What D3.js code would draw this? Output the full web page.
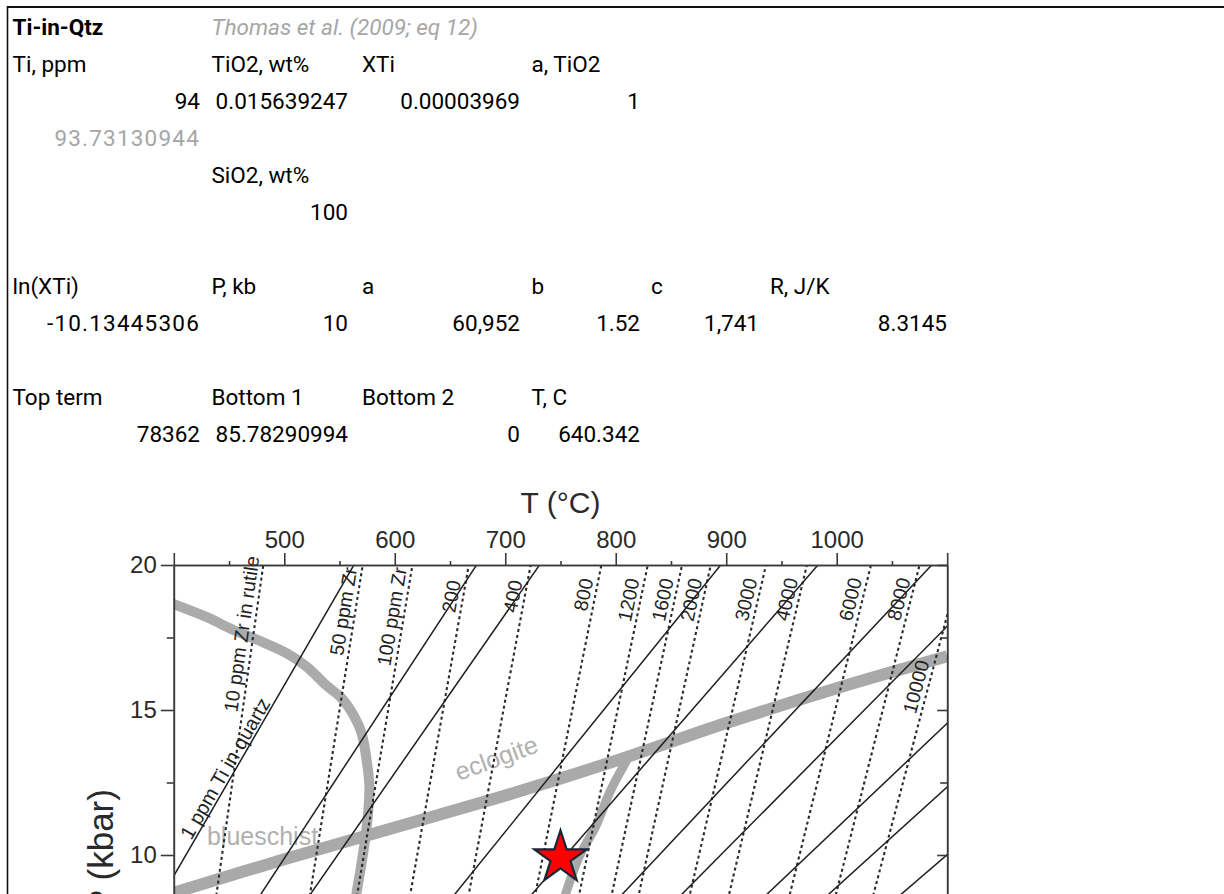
<!DOCTYPE html>
<html>
<head>
<meta charset="utf-8">
<script src="https://cdn.jsdelivr.net/npm/d3@7/dist/d3.min.js"></script>
<style>
  html, body { margin: 0; padding: 0; background: #fff; }
  svg { display: block; }
</style>
</head>
<body>
<svg id="page" width="1224" height="894"></svg>
<script>
// ---------------- spreadsheet data ----------------
// [row, column, text, alignment, kind]
const sheetCells = [
  [1, 'A', 'Ti-in-Qtz', 'l', 'bold'],
  [1, 'B', 'Thomas et al. (2009; eq 12)', 'l', 'note'],
  [2, 'A', 'Ti, ppm', 'l'], [2, 'B', 'TiO2, wt%', 'l'], [2, 'C', 'XTi', 'l'], [2, 'D', 'a, TiO2', 'l'],
  [3, 'A', '94', 'r'], [3, 'B', '0.015639247', 'r'], [3, 'C', '0.00003969', 'r'], [3, 'D', '1', 'r'],
  [4, 'A', '93.73130944', 'r', 'muted'],
  [5, 'B', 'SiO2, wt%', 'l'],
  [6, 'B', '100', 'r'],
  [8, 'A', 'ln(XTi)', 'l'], [8, 'B', 'P, kb', 'l'], [8, 'C', 'a', 'l'], [8, 'D', 'b', 'l'], [8, 'E', 'c', 'l'], [8, 'F', 'R, J/K', 'l'],
  [9, 'A', '-10.13445306', 'r', 'wide'], [9, 'B', '10', 'r'], [9, 'C', '60,952', 'r'], [9, 'D', '1.52', 'r'], [9, 'E', '1,741', 'r'], [9, 'F', '8.3145', 'r'],
  [11, 'A', 'Top term', 'l'], [11, 'B', 'Bottom 1', 'l'], [11, 'C', 'Bottom 2', 'l'], [11, 'D', 'T, C', 'l'],
  [12, 'A', '78362', 'r'], [12, 'B', '85.78290994', 'r'], [12, 'C', '0', 'r'], [12, 'D', '640.342', 'r']
];

// ---------------- chart data ----------------
const tempTicks = [500, 600, 700, 800, 900, 1000];
const pressTicks = [10, 15, 20];

// Ti-in-quartz isopleths (solid): ppm, T (°C) at 20 kbar and at 5 kbar
const tiPpm = [1, 5, 10, 50, 100, 200, 300, 500, 700, 1000];
const tiT20 = [563, 674, 731, 895, 983, 1086, 1155, 1251, 1322, 1405];
const tiT5  = [335, 416, 457, 577, 641, 716, 765, 836, 887, 947];

// Zr-in-rutile isopleths (dashed): ppm, T (°C) at 20 kbar and at 5 kbar
const zrPpm = [10, 50, 100, 200, 400, 800, 1200, 1600, 2000, 3000, 4000, 6000, 8000, 10000];
const zrT20 = [481, 571, 616, 667, 723, 787, 829, 860, 886, 936, 973, 1031, 1075, 1112];
const zrT5  = [425, 508, 550, 597, 649, 708, 747, 776, 800, 845, 880, 934, 975, 1008];
const zrLabels = ['10 ppm Zr in rutile', '50 ppm Zr', '100 ppm Zr', '200', '400', '800', '1200',
                  '1600', '2000', '3000', '4000', '6000', '8000', '10000'];
const zrLabelP = [20.25, 19.85, 19.85, 19.4, 19.4, 19.45, 19.45, 19.45, 19.45, 19.45, 19.45, 19.45, 19.45, 16.6];

// facies boundaries (thick grey bands): T (°C), P (kbar)
const blueschistT = [400, 430, 454, 480, 502, 520, 538, 552, 563, 570, 574, 577, 576, 573, 569, 565, 561];
const blueschistP = [18.65, 18.2, 17.76, 17.35, 16.96, 16.5, 15.85, 15.4, 14.8, 14.2, 13.4, 12.4, 11.5, 10.5, 9.5, 8.6, 7.5];
const eclogiteT = [400, 500, 600, 700, 800, 900, 1000, 1100];
const eclogiteP = [8.7, 9.85, 10.95, 12.05, 13.25, 14.55, 15.75, 16.85];
const branchT = [812, 795, 782, 767, 755, 745];
const branchP = [13.4, 12.2, 11.0, 9.95, 8.7, 7.5];

const faciesLabels = ['blueschist', 'eclogite'];
const faciesLabelT = [430, 658];
const faciesLabelP = [10.34, 12.55];

const starT = 750, starP = 9.9;

// ---------------- drawing ----------------
const W = 1224, H = 894;
const svg = d3.select('#page');

// sheet frame
svg.append('line').attr('x1', 7).attr('x2', W).attr('y1', 7).attr('y2', 7)
  .attr('stroke', '#111').attr('stroke-width', 2);
svg.append('line').attr('x1', 7.5).attr('x2', 7.5).attr('y1', 6).attr('y2', H)
  .attr('stroke', '#111').attr('stroke-width', 1.6);

// sheet text
const colLeft  = { A: 12.5, B: 211.5, C: 362, D: 531.5, E: 651, F: 770 };
const colRight = { A: 200, B: 348, C: 520, D: 640, E: 759, F: 947 };
const rowBase = r => 35 + 37 * (r - 1);

const sheet = svg.append('g').attr('font-family', 'Roboto, "Open Sans", sans-serif').attr('font-size', 22.5);
sheet.selectAll('text').data(sheetCells).join('text')
  .attr('x', d => d[3] === 'r' ? colRight[d[1]] : colLeft[d[1]])
  .attr('y', d => rowBase(d[0]))
  .attr('text-anchor', d => d[3] === 'r' ? 'end' : 'start')
  .attr('font-weight', d => d[4] === 'bold' ? 700 : 400)
  .attr('font-style', d => d[4] === 'note' ? 'italic' : 'normal')
  .attr('letter-spacing', d => (d[4] === 'muted' || d[4] === 'wide') ? 1.2 : 0)
  .attr('fill', d => (d[4] === 'note' || d[4] === 'muted') ? '#a6a6a6' : '#000')
  .text(d => d[2]);

// chart scales
const x = d3.scaleLinear().domain([400, 1100]).range([173.8, 947.2]);
const y = d3.scaleLinear().domain([0, 20]).range([1145, 565]);

const chart = svg.append('g').attr('font-family', '"Liberation Sans", Arial, sans-serif');
const defs = svg.append('defs');
defs.append('clipPath').attr('id', 'plotClip').append('rect')
  .attr('x', x(400)).attr('y', y(20)).attr('width', x(1100) - x(400)).attr('height', y(0) - y(20));

const plot = chart.append('g').attr('clip-path', 'url(#plotClip)');
const lineGen = d3.line().x(d => x(d[0])).y(d => y(d[1])).curve(d3.curveCatmullRom.alpha(0.5));

// grey facies bands
plot.append('path').datum(d3.zip(blueschistT, blueschistP))
  .attr('d', lineGen).attr('fill', 'none').attr('stroke', '#ababab').attr('stroke-width', 10)
  .attr('stroke-linecap', 'round');
plot.append('path').datum(d3.zip(branchT, branchP))
  .attr('d', lineGen).attr('fill', 'none').attr('stroke', '#a9a9a9').attr('stroke-width', 9);
plot.append('path').datum(d3.zip(eclogiteT, eclogiteP))
  .attr('d', lineGen).attr('fill', 'none').attr('stroke', '#a9a9a9').attr('stroke-width', 12);

// facies labels
plot.selectAll('text.facies').data(faciesLabels).join('text').attr('class', 'facies')
  .attr('transform', (d, i) => `translate(${x(faciesLabelT[i])},${y(faciesLabelP[i])}) rotate(${i === 1 ? -20 : 0})`)
  .attr('font-size', 25).attr('fill', '#b0b0b0').text(d => d);

// helpers for straight isopleths
function angleOf(t20, t5) {
  const dx = x(t20) - x(t5), dy = y(20) - y(5);
  return Math.atan2(dy, dx) * 180 / Math.PI;
}
function pointAt(t20, t5, p) { return t5 + (p - 5) / 15 * (t20 - t5); }
const straight = d3.line().x(d => x(d[0])).y(d => y(d[1]));
const extended = (t20, t5) => [[pointAt(t20, t5, 0), 0], [pointAt(t20, t5, 21), 21]];

// dashed Zr-in-rutile lines
plot.selectAll('path.zr').data(zrPpm).join('path').attr('class', 'zr')
  .attr('d', (d, i) => straight(extended(zrT20[i], zrT5[i])))
  .attr('fill', 'none').attr('stroke', '#2a2a2a').attr('stroke-width', 2.1)
  .attr('stroke-dasharray', '3,3');

// Zr labels
chart.selectAll('text.zrlab').data(zrLabels).join('text').attr('class', 'zrlab')
  .attr('transform', (d, i) => {
    const a = angleOf(zrT20[i], zrT5[i]);
    const t = pointAt(zrT20[i], zrT5[i], zrLabelP[i]);
    const r = a * Math.PI / 180;
    const off = 5;
    const px = x(t) + Math.sin(r) * off, py = y(zrLabelP[i]) - Math.cos(r) * off;
    return `translate(${px},${py}) rotate(${a})`;
  })
  .attr('text-anchor', 'end').attr('font-size', 19.5).attr('fill', '#222').text(d => d);

// solid Ti-in-quartz lines
plot.selectAll('path.ti').data(tiPpm).join('path').attr('class', 'ti')
  .attr('d', (d, i) => straight(extended(tiT20[i], tiT5[i])))
  .attr('fill', 'none').attr('stroke', '#1e1e1e').attr('stroke-width', 1.5);

// label of the 1 ppm Ti line
{
  const a = angleOf(tiT20[0], tiT5[0]);
  const p = 10.45, t = pointAt(tiT20[0], tiT5[0], p), r = a * Math.PI / 180, off = 2.5;
  chart.append('text')
    .attr('transform', `translate(${x(t) + Math.sin(r) * off},${y(p) - Math.cos(r) * off}) rotate(${a})`)
    .attr('font-size', 20).attr('fill', '#222').text(tiPpm[0] + ' ppm Ti in quartz');
}

// axes
const axisColor = '#3a3a3a';
function styleAxis(g) {
  g.selectAll('path.domain').attr('stroke', axisColor).attr('stroke-width', 1.6);
  g.selectAll('.tick line').attr('stroke', axisColor).attr('stroke-width', 1.6);
  g.selectAll('.tick text').attr('fill', '#2a2a2a').attr('font-size', 24)
    .attr('font-family', '"Liberation Sans", Arial, sans-serif');
}
const topMajor = d3.range(400, 1101, 100);
const topMinor = d3.range(450, 1100, 100);
chart.append('g').attr('transform', `translate(0,${y(20)})`)
  .call(d3.axisTop(x).tickValues(topMinor).tickSize(4).tickSizeOuter(0).tickFormat(''))
  .call(styleAxis);
chart.append('g').attr('transform', `translate(0,${y(20)})`)
  .call(d3.axisTop(x).tickValues(topMajor).tickSize(12).tickSizeOuter(0).tickPadding(5)
    .tickFormat(d => tempTicks.includes(d) ? d : ''))
  .call(styleAxis);

chart.append('g').attr('transform', `translate(${x(400)},0)`)
  .call(d3.axisLeft(y).tickValues(pressTicks).tickSize(13).tickSizeOuter(0).tickPadding(4))
  .call(styleAxis);
chart.append('g').attr('transform', `translate(${x(400)},0)`)
  .call(d3.axisLeft(y).tickValues([12.5, 17.5]).tickSize(7).tickSizeOuter(0).tickFormat(''))
  .call(styleAxis);
chart.append('g').attr('transform', `translate(${x(1100)},0)`)
  .call(d3.axisRight(y).tickValues(pressTicks).tickSize(-10).tickSizeOuter(0).tickFormat(''))
  .call(styleAxis);
chart.append('g').attr('transform', `translate(${x(1100)},0)`)
  .call(d3.axisRight(y).tickValues([12.5, 17.5]).tickSize(-7).tickSizeOuter(0).tickFormat(''))
  .call(styleAxis);

// axis titles
chart.append('text').attr('x', (x(400) + x(1100)) / 2).attr('y', 513)
  .attr('text-anchor', 'middle').attr('font-size', 30).attr('fill', '#2a2a2a').text('T (°C)');
chart.append('text').attr('transform', `translate(113,851) rotate(-90)`)
  .attr('text-anchor', 'middle').attr('font-size', 35).attr('fill', '#2a2a2a').text('P (kbar)');

// star marker
const R = 27.5;
chart.append('path')
  .attr('d', d3.symbol(d3.symbolStar, R * R / 0.8908130915292852)())
  .attr('transform', `translate(${x(starT)},${y(starP)})`)
  .attr('fill', '#ff0000').attr('stroke', '#14283a').attr('stroke-width', 2.2)
  .attr('stroke-linejoin', 'miter');
</script>
</body>
</html>
